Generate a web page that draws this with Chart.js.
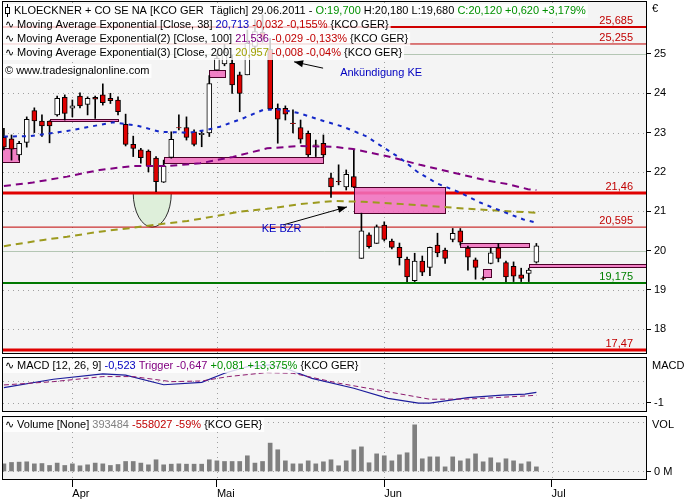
<!DOCTYPE html>
<html>
<head>
<meta charset="utf-8">
<script src="https://cdn.jsdelivr.net/npm/chart.js@4.4.0/dist/chart.umd.min.js"></script>
<style>
  html, body { margin: 0; padding: 0; background: #fff; }
  #wrap { position: relative; width: 700px; height: 500px; }
  canvas { position: absolute; left: 0; }
</style>
</head>
<body>
<div id="wrap">
  <canvas id="price" width="700" height="356" style="top:0"></canvas>
  <canvas id="macd" width="700" height="57" style="top:356px"></canvas>
  <canvas id="vol" width="700" height="85" style="top:415px"></canvas>
</div>
<script>
// daily candles, index 0 = 21.03.2011 ... index 70 = 29.06.2011
const opens  = [22.88,22.84,22.43,22.75,23.56,23.29,23.29,23.45,23.90,23.62,23.93,23.72,23.90,23.96,23.87,23.83,23.21,22.70,22.56,22.53,
                22.35,21.74,22.37,23.13,23.13,23.02,22.95,22.99,24.59,24.75,24.76,24.47,24.47,25.19,25.55,25.12,23.62,23.62,23.24,23.13,
                22.98,22.69,22.73,21.85,21.76,21.62,21.88,19.80,20.40,20.18,20.65,20.24,20.08,19.78,19.23,19.73,19.57,20.14,20.01,20.28,
                20.50,20.06,19.76,19.30,19.67,20.07,19.69,19.60,19.38,19.42,19.70];
const highs  = [23.11,22.94,22.78,23.40,23.63,23.45,23.30,23.93,23.96,23.83,24.01,23.91,23.93,24.24,24.00,23.91,23.47,22.91,22.60,22.56,
                22.39,22.30,23.02,23.45,23.40,23.07,23.05,24.45,25.02,25.25,24.97,24.54,25.61,25.87,26.00,25.40,23.73,23.68,23.58,23.32,
                23.04,22.81,22.94,21.97,22.18,22.05,22.58,20.95,20.45,20.65,20.73,20.29,20.19,19.83,19.93,19.86,20.09,20.44,20.06,20.56,
                20.56,20.11,19.81,19.33,20.06,20.18,19.73,19.71,19.55,19.55,20.18];
const lows   = [22.56,22.30,22.30,22.63,23.00,22.90,22.74,23.42,23.32,23.40,23.63,23.45,23.36,23.70,23.74,23.45,22.66,22.39,22.22,22.00,
                21.50,21.73,22.35,23.07,22.81,22.66,22.64,22.90,24.59,24.70,24.00,23.53,24.47,25.10,25.30,23.58,22.73,23.32,22.99,22.73,
                22.39,22.39,22.38,21.35,21.67,21.54,21.60,19.80,20.06,20.18,20.24,20.04,19.63,19.21,19.21,19.36,19.36,19.84,19.67,20.22,
                20.14,19.50,19.27,19.25,19.66,19.71,19.21,19.21,19.21,19.21,19.68];
const closes = [22.63,22.58,22.73,23.34,23.30,23.17,23.17,23.87,23.49,23.68,23.68,23.87,23.85,23.76,23.81,23.53,22.70,22.60,22.36,22.15,
                21.75,22.15,22.83,23.12,22.88,22.70,22.98,24.25,24.89,25.05,24.21,24.00,25.27,25.57,25.40,23.60,23.34,23.47,23.23,22.83,
                22.43,22.68,22.43,21.62,21.75,21.94,21.61,20.50,20.10,20.60,20.28,20.08,19.82,19.33,19.73,19.45,20.08,19.94,19.80,20.44,
                20.21,19.83,19.57,19.29,19.94,19.80,19.33,19.35,19.29,19.50,20.12];
// volume in millions
const volumes = [0.71,0.84,0.87,0.90,0.71,0.74,0.56,0.78,0.56,0.71,0.53,0.62,0.78,0.71,0.56,0.65,0.93,0.93,0.78,0.62,
                 1.09,0.62,0.68,0.71,0.68,0.68,0.68,1.09,0.99,0.93,0.93,0.93,1.46,0.78,0.93,2.64,2.02,0.99,0.71,0.71,
                 0.99,0.71,0.90,1.09,0.53,0.99,2.02,2.29,0.81,1.64,1.46,0.99,1.55,1.74,4.34,1.18,1.36,1.36,0.43,1.36,
                 0.99,1.18,1.64,0.90,1.27,0.81,1.18,0.99,0.71,0.90,0.43];

// moving averages, read at these day positions
const ema38Idx  = [0,3.4,8.3,11.3,14.4,17.5,20.5,24.5,26.7,28.4,31.4,34.1,36.3,38.9,41.6,44.6,47.7,50.4,52.1,54.3,56.9,60,62.6,65.6,68.3,70];
const ema38Val  = [22.90,22.91,23.04,23.15,23.26,23.18,23.02,23.00,23.07,23.15,23.36,23.58,23.59,23.49,23.32,23.15,22.90,22.56,22.35,22.01,21.71,21.47,21.22,20.99,20.79,20.71];
const ema100Idx = [0,3.8,8.3,12.6,17,21.5,25.8,30.1,34.6,38.9,43.3,45.9,50.4,54.7,59.1,63.5,66.2,68.9,70];
const ema100Val = [21.64,21.73,21.88,22.05,22.15,22.15,22.22,22.38,22.60,22.66,22.64,22.58,22.40,22.18,21.98,21.78,21.69,21.56,21.54];
const ema200Idx = [0,5.2,8.3,12.6,17,20.5,24.1,28,31.1,34.6,38.9,43.3,47.2,52.5,58.3,63.5,70];
const ema200Val = [20.11,20.27,20.35,20.48,20.58,20.67,20.75,20.88,20.99,21.06,21.18,21.26,21.24,21.18,21.10,21.03,20.96];

// MACD and trigger
const macdIdx = [0,6.5,13,16,21,26,29,32,35,37,40.5,46,50.5,54.5,56,61,65.5,68.5,70];
const macdVal = [-0.30,0.08,0.32,0.27,-0.17,-0.06,0.35,0.65,0.73,0.58,0.12,-0.33,-0.79,-1.01,-1.01,-0.76,-0.64,-0.60,-0.52];
const trigIdx = [0,6.5,13,17,22,26,29.5,34.5,38,44,50.5,56,61,65.5,70];
const trigVal = [-0.18,-0.03,0.20,0.20,-0.03,0.00,0.20,0.38,0.35,-0.10,-0.49,-0.83,-0.82,-0.74,-0.65];

// axis ticks
const monthIdx = [9, 28, 50, 72];
const monthLabels = ['Apr', 'Mai', 'Jun', 'Jul'];
const priceTicks = [18, 19, 20, 21, 22, 23, 24, 25];

// drawn levels and zones
const levels = [25.685, 25.255, 21.46, 20.595, 19.175, 17.47];
const zoneStart = [-0.3, 6, 21, 27, 46, 60, 63, 69];
const zoneEnd   = [2, 15, 42, 29, 58, 69, 64, 84.5];
const zoneLow   = [22.24, 23.29, 22.23, 24.41, 20.95, 20.10, 19.33, 19.57];
const zoneHigh  = [22.60, 23.35, 22.38, 24.59, 21.61, 20.18, 19.53, 19.66];

const FONT = '11px "Liberation Sans", Arial, sans-serif';
const levelStyle = [
  {c: '#d00000', w: 2, t: '#c00000'}, {c: '#c00000', w: 1, t: '#c00000'},
  {c: '#e00000', w: 3, t: '#c00000'}, {c: '#c00000', w: 1, t: '#c00000'},
  {c: '#007800', w: 2, t: '#008000'}, {c: '#e00000', w: 3, t: '#c00000'}
];

function pts(xs, ys) { return xs.map((v, i) => ({x: v, y: ys[i]})); }

function textRow(ctx, x, y, parts) {
  ctx.font = FONT;
  ctx.textBaseline = 'middle';
  ctx.textAlign = 'left';
  let w = 0;
  parts.forEach(p => w += ctx.measureText(p[0]).width);
  ctx.fillStyle = 'rgba(255,255,255,0.8)';
  ctx.fillRect(x - 2, y - 7, w + 4, 14);
  let cx = x;
  parts.forEach(([t, c]) => {
    ctx.fillStyle = c;
    ctx.fillText(t, cx, y);
    cx += ctx.measureText(t).width;
  });
}

function arrow(ctx, x1, y1, x2, y2) {
  ctx.beginPath(); ctx.moveTo(x1, y1); ctx.lineTo(x2, y2); ctx.stroke();
  const a = Math.atan2(y2 - y1, x2 - x1), L = 9, W = 3.5;
  ctx.beginPath();
  ctx.moveTo(x2, y2);
  ctx.lineTo(x2 - L * Math.cos(a) + W * Math.sin(a), y2 - L * Math.sin(a) - W * Math.cos(a));
  ctx.lineTo(x2 - L * Math.cos(a) - W * Math.sin(a), y2 - L * Math.sin(a) + W * Math.cos(a));
  ctx.closePath(); ctx.fill();
}

// panel background, dotted month lines and dotted/solid horizontal grid
function panelBack(chart, hGrid, solid) {
  const {ctx, chartArea: a, scales: {x, y}} = chart;
  ctx.fillStyle = '#f4f4f4';
  ctx.fillRect(a.left, a.top, a.width, a.height);
  ctx.lineWidth = 1;
  hGrid.forEach(v => {
    const yy = Math.round(y.getPixelForValue(v)) + 0.5;
    if (solid.includes(v)) { ctx.setLineDash([]); ctx.strokeStyle = '#b4c6b4'; }
    else { ctx.setLineDash([1, 4]); ctx.strokeStyle = '#a0a0a0'; }
    ctx.beginPath(); ctx.moveTo(a.left, yy); ctx.lineTo(a.right, yy); ctx.stroke();
  });
  ctx.setLineDash([1, 4]); ctx.strokeStyle = '#a0a0a0';
  monthIdx.forEach(m => {
    const xx = Math.round(x.getPixelForValue(m)) + 0.5;
    ctx.beginPath(); ctx.moveTo(xx, a.top); ctx.lineTo(xx, a.bottom); ctx.stroke();
  });
  ctx.setLineDash([]);
}

function panelBorder(chart) {
  const {ctx, chartArea: a} = chart;
  ctx.strokeStyle = '#000'; ctx.lineWidth = 1;
  ctx.strokeRect(a.left - 0.5, a.top - 0.5, a.width + 1, a.height + 1);
}

const priceDecor = {
  id: 'priceDecor',
  beforeDatasetsDraw(chart) {
    const {ctx, chartArea: a, scales: {x, y}} = chart;
    ctx.save();
    panelBack(chart, priceTicks, [20, 25]);
    ctx.beginPath(); ctx.rect(a.left, a.top, a.width, a.height); ctx.clip();
    // bowl under the April low
    const cx = x.getPixelForValue(19.5), rx = x.getPixelForValue(22) - cx;
    const cy = y.getPixelForValue(21.46), ry = y.getPixelForValue(20.595) - cy;
    ctx.beginPath(); ctx.ellipse(cx, cy, rx, ry, 0, 0, Math.PI); ctx.closePath();
    ctx.fillStyle = '#deefda'; ctx.fill();
    ctx.strokeStyle = '#303030'; ctx.lineWidth = 1; ctx.stroke();
    // horizontal levels
    levels.forEach((v, i) => {
      const yy = y.getPixelForValue(v);
      ctx.strokeStyle = levelStyle[i].c; ctx.lineWidth = levelStyle[i].w;
      ctx.beginPath(); ctx.moveTo(a.left, yy); ctx.lineTo(a.right, yy); ctx.stroke();
    });
    // pink zones
    ctx.lineWidth = 1;
    zoneStart.forEach((s, i) => {
      const x1 = Math.round(x.getPixelForValue(s)) + 0.5, x2 = Math.round(x.getPixelForValue(zoneEnd[i])) + 0.5;
      const y1 = Math.round(y.getPixelForValue(zoneHigh[i])) + 0.5, y2 = Math.round(y.getPixelForValue(zoneLow[i])) + 0.5;
      ctx.fillStyle = 'rgba(240,112,190,0.88)';
      ctx.fillRect(x1, y1, x2 - x1, y2 - y1);
      ctx.strokeStyle = '#4a0028';
      ctx.strokeRect(x1, y1, x2 - x1, y2 - y1);
    });
    ctx.restore();
  },
  afterDatasetsDraw(chart) {
    const {ctx, chartArea: a, scales: {x, y}} = chart;
    ctx.save();
    // annotations
    ctx.strokeStyle = '#000'; ctx.fillStyle = '#000'; ctx.lineWidth = 1;
    arrow(ctx, x.getPixelForValue(41.96), y.getPixelForValue(24.64), x.getPixelForValue(38.15), y.getPixelForValue(24.80));
    arrow(ctx, x.getPixelForValue(36.7), y.getPixelForValue(20.65), x.getPixelForValue(45.1), y.getPixelForValue(21.11));
    ctx.font = FONT; ctx.textBaseline = 'middle'; ctx.textAlign = 'left'; ctx.fillStyle = '#0000c0';
    ctx.fillText('Ankündigung KE', x.getPixelForValue(44.2), y.getPixelForValue(24.52));
    ctx.fillText('KE BZR', x.getPixelForValue(33.9), y.getPixelForValue(20.55));
    // level labels
    ctx.textAlign = 'right'; ctx.textBaseline = 'alphabetic';
    levels.forEach((v, i) => {
      ctx.fillStyle = levelStyle[i].t;
      ctx.fillText(String(v).replace('.', ','), a.right - 13, y.getPixelForValue(v) - 3);
    });
    // legend rows
    textRow(ctx, 14, 11, [['KLOECKNER + CO SE NA [KCO GER  Täglich] 29.06.2011 - ', '#000'], ['O:19,700', '#009000'],
      [' H:20,180 L:19,680 ', '#000'], ['C:20,120 +0,620 +3,179%', '#009000']]);
    ctx.fillStyle = 'rgba(255,255,255,0.8)'; ctx.fillRect(3, 4, 11, 14);
    ctx.strokeStyle = '#000'; ctx.beginPath(); ctx.moveTo(7.5, 4); ctx.lineTo(7.5, 17); ctx.stroke();
    ctx.fillStyle = '#fff'; ctx.fillRect(5.5, 7.5, 4, 6); ctx.strokeRect(5.5, 7.5, 4, 6);
    textRow(ctx, 5, 25, [['∿ Moving Average Exponential [Close, 38] ', '#000'], ['20,713', '#0000c0'], [' -0,032 -0,155%', '#c00000'], [' {KCO GER}', '#000']]);
    textRow(ctx, 5, 39, [['∿ Moving Average Exponential(2) [Close, 100] ', '#000'], ['21,536', '#800080'], [' -0,029 -0,133%', '#c00000'], [' {KCO GER}', '#000']]);
    textRow(ctx, 5, 53, [['∿ Moving Average Exponential(3) [Close, 200] ', '#000'], ['20,957', '#a0a000'], [' -0,008 -0,04%', '#c00000'], [' {KCO GER}', '#000']]);
    textRow(ctx, 5, 71, [['© www.tradesignalonline.com', '#000']]);
    panelBorder(chart);
    ctx.fillStyle = '#000'; ctx.textAlign = 'left'; ctx.textBaseline = 'middle';
    ctx.fillText('€', a.right + 6, 9);
    ctx.restore();
  }
};

const macdDecor = {
  id: 'macdDecor',
  beforeDatasetsDraw(chart) { chart.ctx.save(); panelBack(chart, [0, -1], []); chart.ctx.restore(); },
  afterDatasetsDraw(chart) {
    const {ctx, chartArea: a} = chart;
    ctx.save();
    textRow(ctx, 5, a.top + 8, [['∿ MACD [12, 26, 9] ', '#000'], ['-0,523', '#0000c0'], [' Trigger -0,647', '#800080'], [' +0,081 +13,375%', '#009000'], [' {KCO GER}', '#000']]);
    panelBorder(chart);
    ctx.fillStyle = '#000'; ctx.font = FONT; ctx.textAlign = 'left'; ctx.textBaseline = 'middle';
    ctx.fillText('MACD', a.right + 6, a.top + 8);
    ctx.restore();
  }
};

const volDecor = {
  id: 'volDecor',
  beforeDatasetsDraw(chart) { chart.ctx.save(); panelBack(chart, [0, 4.6], []); chart.ctx.restore(); },
  afterDatasetsDraw(chart) {
    const {ctx, chartArea: a} = chart;
    ctx.save();
    textRow(ctx, 5, a.top + 8, [['∿ Volume [None] ', '#000'], ['393484', '#808080'], [' -558027 -59%', '#c00000'], [' {KCO GER}', '#000']]);
    panelBorder(chart);
    ctx.fillStyle = '#000'; ctx.font = FONT; ctx.textAlign = 'left'; ctx.textBaseline = 'middle';
    ctx.fillText('VOL', a.right + 6, a.top + 8);
    ctx.restore();
  }
};

function noPad(s) { s.paddingTop = 0; s.paddingBottom = 0; s.paddingLeft = 0; s.paddingRight = 0; }
const xHidden = {type: 'linear', min: -0.12, max: 84.41, offset: false, display: false};
function rightAxis(min, max, ticks, fmt) {
  return {
    type: 'linear', position: 'right', min: min, max: max,
    afterFit(s) { s.width = 54; noPad(s); },
    afterBuildTicks(s) { s.ticks = ticks.map(v => ({value: v})); },
    grid: {drawOnChartArea: false, tickLength: 5, tickColor: '#000'},
    border: {display: false},
    ticks: {color: '#000', font: {family: '"Liberation Sans", Arial, sans-serif', size: 11}, padding: 3, callback: fmt}
  };
}
const base = {
  responsive: false, animation: false, events: [],
  plugins: {legend: {display: false}, tooltip: {enabled: false}}
};

new Chart(document.getElementById('price'), {
  type: 'bar',
  data: {
    datasets: [
      {type: 'line', data: pts(ema38Idx, ema38Val), borderColor: '#1428c8', borderWidth: 2, borderDash: [4, 5], pointRadius: 0, order: 0},
      {type: 'line', data: pts(ema100Idx, ema100Val), borderColor: '#800080', borderWidth: 2, borderDash: [7, 5], pointRadius: 0, order: 0},
      {type: 'line', data: pts(ema200Idx, ema200Val), borderColor: '#9c9a1e', borderWidth: 2, borderDash: [7, 5], pointRadius: 0, order: 0},
      {data: opens.map((o, i) => ({x: i, y: [o, closes[i]]})),
       backgroundColor: opens.map((o, i) => closes[i] >= o ? '#ffffff' : '#e00000'),
       borderColor: '#000', borderWidth: 1, borderSkipped: false, barThickness: 5, grouped: false, order: 1},
      {data: lows.map((l, i) => ({x: i, y: [l, highs[i]]})), backgroundColor: '#000', barThickness: 1, grouped: false, order: 2}
    ]
  },
  options: Object.assign({}, base, {
    layout: {padding: {left: 3, top: 2, bottom: 3, right: 0}},
    scales: {x: xHidden, y: rightAxis(17.392, 26.323, priceTicks, v => String(v))}
  }),
  plugins: [priceDecor]
});

new Chart(document.getElementById('macd'), {
  type: 'line',
  data: {
    datasets: [
      {data: pts(trigIdx, trigVal), borderColor: '#8c1a6e', borderWidth: 1, borderDash: [5, 3], pointRadius: 0},
      {data: pts(macdIdx, macdVal), borderColor: '#1c1c9c', borderWidth: 1.2, pointRadius: 0}
    ]
  },
  options: Object.assign({}, base, {
    layout: {padding: {left: 3, top: 2, bottom: 2, right: 0}},
    scales: {x: xHidden, y: rightAxis(-1.364, 1.045, [-1], v => String(v))}
  }),
  plugins: [macdDecor]
});

new Chart(document.getElementById('vol'), {
  type: 'bar',
  data: {
    datasets: [{data: volumes.map((v, i) => ({x: i, y: v})), backgroundColor: '#7f7f7f', barThickness: 4}]
  },
  options: Object.assign({}, base, {
    layout: {padding: {left: 3, top: 2, bottom: 0, right: 0}},
    scales: {
      x: {
        type: 'linear', min: -0.12, max: 84.41, offset: false, position: 'bottom',
        afterFit(s) { s.height = 21; noPad(s); },
        afterBuildTicks(s) { s.ticks = monthIdx.map(v => ({value: v})); },
        grid: {drawOnChartArea: false, offset: false, tickLength: 8, tickColor: '#000'},
        border: {display: false},
        ticks: {color: '#000', font: {family: '"Liberation Sans", Arial, sans-serif', size: 11}, padding: 0,
                autoSkip: false, maxRotation: 0, align: 'start', callback: (v, i) => monthLabels[i]}
      },
      y: rightAxis(-0.70, 5.07, [0], v => v + ' M')
    }
  }),
  plugins: [volDecor]
});
</script>
</body>
</html>
